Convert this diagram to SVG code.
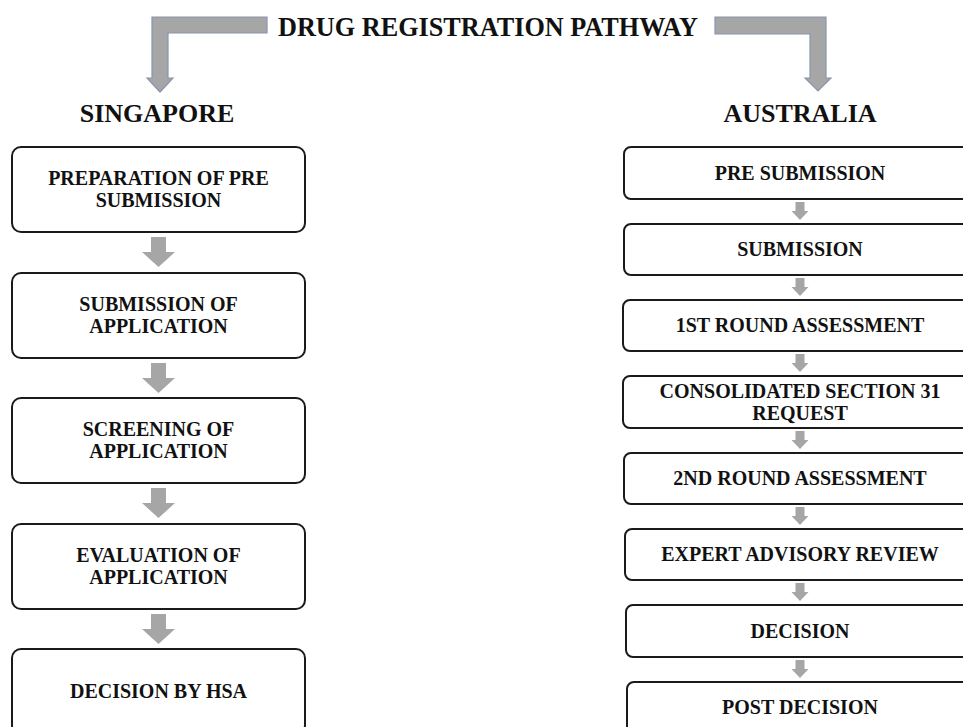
<svg xmlns="http://www.w3.org/2000/svg" xmlns:xlink="http://www.w3.org/1999/xlink" width="963" height="727" viewBox="0 0 963 727">
  <style>
    .t { font-family: "Liberation Serif", "Times New Roman", serif; font-weight: bold; fill: #111; text-anchor: middle; }
    .h { font-size: 26px; }
    .n { font-size: 20px; }
    .box { fill: #ffffff; stroke: #1a1a1a; stroke-width: 2; }
    .garr { fill: #a6a6a6; }
    .tarr { fill: #a6a6a6; stroke: #8796ad; stroke-width: 1.2; }
  </style>
  <defs>
    <path id="sgArrow" class="garr" d="M-7.5,0 H7.5 V15 H16.5 L0,30 L-16.5,15 H-7.5 Z"/>
    <path id="auArrow" class="garr" d="M-4.5,0 H4.5 V9 H8.5 L0,18 L-8.5,9 H-4.5 Z"/>
  </defs>
  <rect width="963" height="727" fill="#ffffff"/>

  <g id="title">
    <text class="t" x="488" y="36" font-size="27" textLength="420" lengthAdjust="spacingAndGlyphs">DRUG REGISTRATION PATHWAY</text>
  </g>

  <g id="connectors">
    <path class="tarr" d="M267,17 L152,17 L152,78 L147,78 L160,92 L173,78 L168,78 L168,33 L267,33 Z"/>
    <path class="tarr" d="M715,17 L826,17 L826,78 L831,78 L818,91 L805,78 L810,78 L810,34 L715,34 Z"/>
    <use xlink:href="#sgArrow" x="158.5" y="237"/>
    <use xlink:href="#sgArrow" x="158.5" y="363"/>
    <use xlink:href="#sgArrow" x="158.5" y="488"/>
    <use xlink:href="#sgArrow" x="158.5" y="614"/>
    <use xlink:href="#auArrow" x="800" y="202"/>
    <use xlink:href="#auArrow" x="800" y="278"/>
    <use xlink:href="#auArrow" x="800" y="354"/>
    <use xlink:href="#auArrow" x="800" y="431"/>
    <use xlink:href="#auArrow" x="800" y="507"/>
    <use xlink:href="#auArrow" x="800" y="583"/>
    <use xlink:href="#auArrow" x="800" y="660"/>
  </g>

  <g id="singapore-heading"><text class="t h" x="157" y="122">SINGAPORE</text></g>
  <g id="australia-heading"><text class="t h" x="800" y="122">AUSTRALIA</text></g>

  <g id="sg1">
    <rect class="box" x="12" y="147" width="293" height="85" rx="9"/>
    <text class="t n" x="158.5" y="185">PREPARATION OF PRE</text>
    <text class="t n" x="158.5" y="207">SUBMISSION</text>
  </g>
  <g id="sg2">
    <rect class="box" x="12" y="273" width="293" height="85" rx="9"/>
    <text class="t n" x="158.5" y="311">SUBMISSION OF</text>
    <text class="t n" x="158.5" y="333">APPLICATION</text>
  </g>
  <g id="sg3">
    <rect class="box" x="12" y="398" width="293" height="85" rx="9"/>
    <text class="t n" x="158.5" y="436">SCREENING OF</text>
    <text class="t n" x="158.5" y="458">APPLICATION</text>
  </g>
  <g id="sg4">
    <rect class="box" x="12" y="524" width="293" height="85" rx="9"/>
    <text class="t n" x="158.5" y="562">EVALUATION OF</text>
    <text class="t n" x="158.5" y="584">APPLICATION</text>
  </g>
  <g id="sg5">
    <rect class="box" x="12" y="649" width="293" height="85" rx="9"/>
    <text class="t n" x="158.5" y="698">DECISION BY HSA</text>
  </g>

  <g id="au1">
    <rect class="box" x="624" y="147" width="354" height="52" rx="7"/>
    <text class="t n" x="800" y="180">PRE SUBMISSION</text>
  </g>
  <g id="au2">
    <rect class="box" x="624" y="224" width="354" height="51" rx="7"/>
    <text class="t n" x="800" y="256">SUBMISSION</text>
  </g>
  <g id="au3">
    <rect class="box" x="623" y="300" width="355" height="51" rx="7"/>
    <text class="t n" x="800" y="332">1ST ROUND ASSESSMENT</text>
  </g>
  <g id="au4">
    <rect class="box" x="623" y="376" width="355" height="52" rx="7"/>
    <text class="t n" x="800" y="398">CONSOLIDATED SECTION 31</text>
    <text class="t n" x="800" y="420">REQUEST</text>
  </g>
  <g id="au5">
    <rect class="box" x="624" y="453" width="354" height="51" rx="7"/>
    <text class="t n" x="800" y="485">2ND ROUND ASSESSMENT</text>
  </g>
  <g id="au6">
    <rect class="box" x="625" y="529" width="353" height="51" rx="7"/>
    <text class="t n" x="800" y="561">EXPERT ADVISORY REVIEW</text>
  </g>
  <g id="au7">
    <rect class="box" x="626" y="605" width="352" height="52" rx="7"/>
    <text class="t n" x="800" y="638">DECISION</text>
  </g>
  <g id="au8">
    <rect class="box" x="627" y="682" width="351" height="60" rx="7"/>
    <text class="t n" x="800" y="714">POST DECISION</text>
  </g>
</svg>
